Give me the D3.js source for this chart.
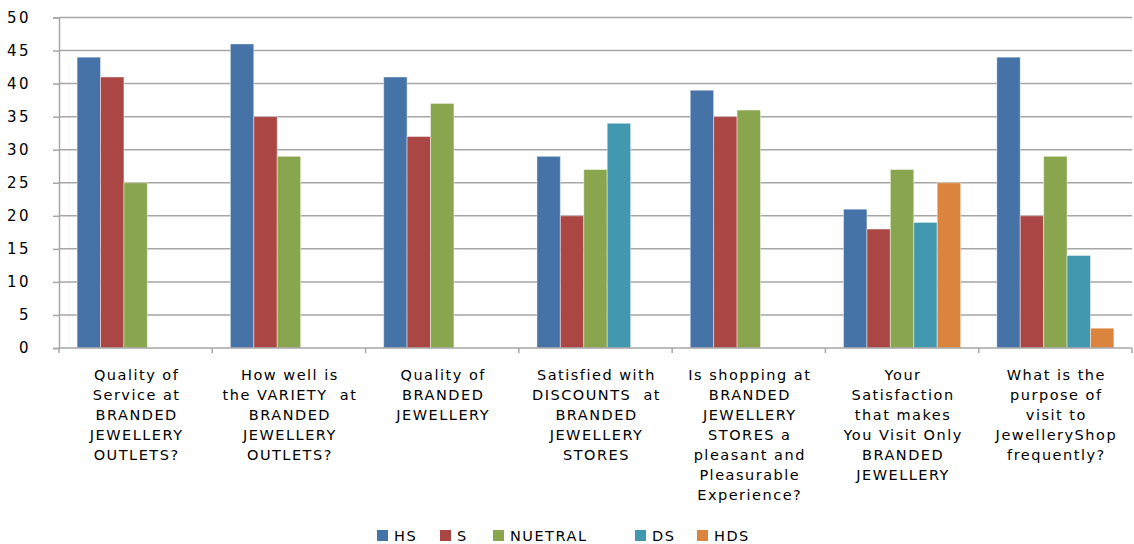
<!DOCTYPE html>
<html>
<head>
<meta charset="utf-8">
<script src="https://cdn.jsdelivr.net/npm/d3@7"></script>
<style>
  body { margin: 0; background: #fff; }
  text { font-family: "DejaVu Sans", Verdana, sans-serif; fill: #000; white-space: pre; }
</style>
</head>
<body>
<svg id="chart" width="1134" height="544"></svg>
<script>
let categories = [
  ['Quality of', 'Service at', 'BRANDED', 'JEWELLERY', 'OUTLETS?'],
  ['How well is', 'the VARIETY  at', 'BRANDED', 'JEWELLERY', 'OUTLETS?'],
  ['Quality of', 'BRANDED', 'JEWELLERY'],
  ['Satisfied with', 'DISCOUNTS  at', 'BRANDED', 'JEWELLERY', 'STORES'],
  ['Is shopping at', 'BRANDED', 'JEWELLERY', 'STORES a', 'pleasant and', 'Pleasurable', 'Experience?'],
  ['Your', 'Satisfaction', 'that makes', 'You Visit Only', 'BRANDED', 'JEWELLERY'],
  ['What is the', 'purpose of', 'visit to', 'JewelleryShop', 'frequently?']
];
let seriesNames = ['HS', 'S', 'NUETRAL', 'DS', 'HDS'];
let hs      = [44, 46, 41, 29, 39, 21, 44];
let s       = [41, 35, 32, 20, 35, 18, 20];
let neutral = [25, 29, 37, 27, 36, 27, 29];
let ds      = [0, 0, 0, 34, 0, 19, 14];
let hds     = [0, 0, 0, 0, 0, 25, 3];
let yTicks  = [0, 5, 10, 15, 20, 25, 30, 35, 40, 45, 50];

let seriesValues = [hs, s, neutral, ds, hds];
let colors = ['#4572A7', '#AA4643', '#89A54E', '#4198AF', '#DB843D'];

let svg = d3.select('#chart');
let plotLeft = 59, plotRight = 1132, plotTop = 17.5, plotBottom = 348;

let x0 = d3.scaleBand()
  .domain(d3.range(categories.length))
  .range([plotLeft, plotRight]);

let gap = x0.bandwidth() * 0.118;
let x1 = d3.scaleBand()
  .domain(d3.range(seriesNames.length))
  .range([gap, x0.bandwidth() - gap]);

let y = d3.scaleLinear().domain([0, 50]).range([plotBottom, plotTop]);

// gridlines
svg.append('g')
  .selectAll('line')
  .data(yTicks.slice(1))
  .join('line')
  .attr('x1', plotLeft)
  .attr('x2', plotRight)
  .attr('y1', d => y(d))
  .attr('y2', d => y(d))
  .attr('stroke', '#a6a6a6')
  .attr('stroke-width', 1.5);

// y axis
let yAxis = svg.append('g')
  .attr('transform', 'translate(' + plotLeft + ',0)')
  .call(d3.axisLeft(y).tickValues(yTicks).tickSize(6).tickPadding(22));
yAxis.select('.domain').attr('stroke', '#a6a6a6').attr('stroke-width', 1.5);
yAxis.selectAll('.tick line').attr('stroke', '#a6a6a6').attr('stroke-width', 1.5);
yAxis.selectAll('.tick text')
  .style('font-family', '"DejaVu Sans", sans-serif')
  .style('font-size', '15px')
  .style('letter-spacing', '2.5px')
  .attr('fill', '#000');

// bars
let groups = svg.append('g')
  .selectAll('g')
  .data(categories.map((c, i) => i))
  .join('g')
  .attr('transform', i => 'translate(' + x0(i) + ',0)');

groups.selectAll('rect')
  .data(i => seriesValues.map((vals, k) => ({ k: k, v: vals[i] })).filter(d => d.v > 0))
  .join('rect')
  .attr('x', d => x1(d.k))
  .attr('width', x1.bandwidth())
  .attr('y', d => y(d.v))
  .attr('height', d => y(0) - y(d.v))
  .attr('fill', d => colors[d.k])
  .attr('stroke', 'rgba(255,255,255,0.45)')
  .attr('stroke-width', 1);

// x axis
svg.append('line')
  .attr('x1', plotLeft).attr('x2', plotRight)
  .attr('y1', plotBottom).attr('y2', plotBottom)
  .attr('stroke', '#a6a6a6').attr('stroke-width', 1.5);

svg.append('g')
  .selectAll('line')
  .data(d3.range(categories.length + 1))
  .join('line')
  .attr('x1', i => plotLeft + i * x0.step())
  .attr('x2', i => plotLeft + i * x0.step())
  .attr('y1', plotBottom)
  .attr('y2', plotBottom + 5)
  .attr('stroke', '#a6a6a6')
  .attr('stroke-width', 1.5);

// category labels
let labels = svg.append('g')
  .selectAll('text')
  .data(categories)
  .join('text')
  .attr('text-anchor', 'middle')
  .attr('font-size', '14.5px')
  .attr('letter-spacing', '1.5px')
  .attr('transform', (d, i) => 'translate(' + (x0(i) + x0.bandwidth() / 2 + 1) + ',380)');

labels.selectAll('tspan')
  .data(d => d)
  .join('tspan')
  .attr('x', 0)
  .attr('y', (d, j) => j * 20)
  .text(d => d);

// legend
let legendX = [377, 440, 493, 635, 697];
let legend = svg.append('g')
  .selectAll('g')
  .data(seriesNames)
  .join('g')
  .attr('transform', (d, i) => 'translate(' + legendX[i] + ',530)');

legend.append('rect')
  .attr('width', 11)
  .attr('height', 11)
  .attr('fill', (d, i) => colors[i]);

legend.append('text')
  .attr('x', 17)
  .attr('y', 11)
  .attr('font-size', '14.5px')
  .attr('letter-spacing', '1.5px')
  .text(d => d);
</script>
</body>
</html>
